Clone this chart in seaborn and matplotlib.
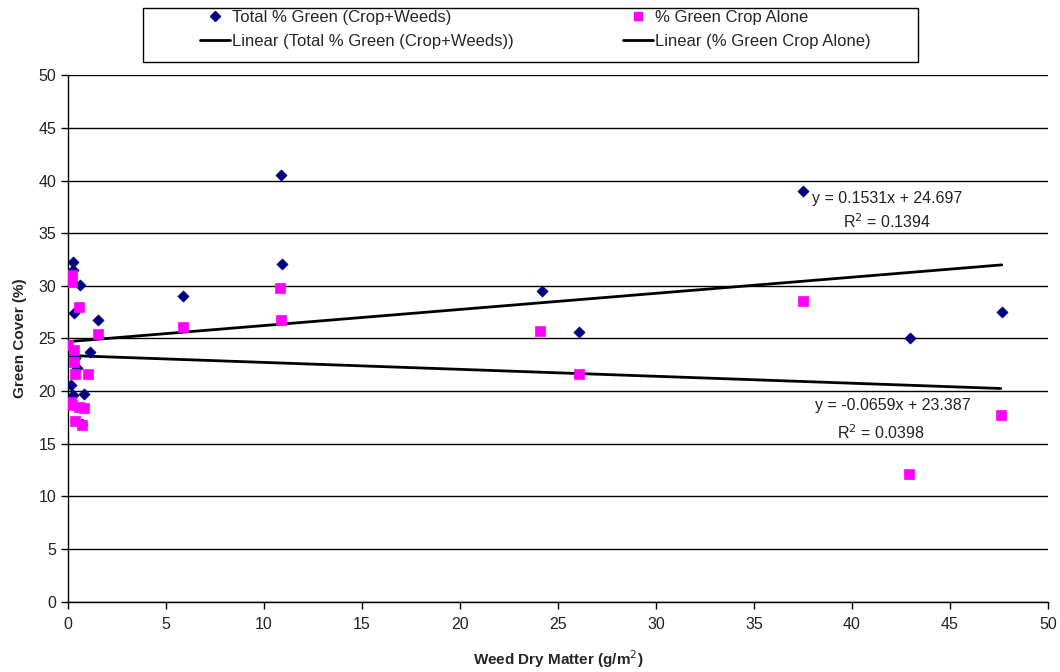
import matplotlib
matplotlib.use("Agg")
import matplotlib.pyplot as plt
import seaborn as sns
import numpy as np
import pandas as pd
from matplotlib.lines import Line2D
from matplotlib.patches import Rectangle

# Total % Green (Crop+Weeds)
total_x = [0.26, 0.26, 0.63, 0.32, 1.53, 1.14, 0.37, 0.46, 0.15, 0.83, 0.26, 0.70,
           5.88, 10.87, 10.93, 24.17, 26.10, 37.48, 42.96, 47.64]
total_y = [32.3, 31.5, 30.1, 27.4, 26.75, 23.7, 23.1, 22.2, 20.6, 19.7, 19.6, 16.9,
           29.0, 40.5, 32.1, 29.5, 25.6, 39.0, 25.0, 27.5]

# % Green Crop Alone
crop_x = [0.20, 0.20, 0.58, 1.53, 0.03, 0.29, 0.29, 0.37, 1.05, 0.15, 0.20, 0.55, 0.80,
          0.37, 0.71, 5.85, 10.82, 10.87, 24.10, 26.07, 37.48, 42.92, 47.59]
crop_y = [31.0, 30.4, 28.0, 25.4, 24.4, 23.9, 22.8, 21.6, 21.6, 19.0, 18.7, 18.5, 18.4,
          17.2, 16.8, 26.1, 29.8, 26.8, 25.7, 21.6, 28.6, 12.1, 17.7]

# Linear trendlines as stated on the chart: [total, crop]
trend_slope = [0.1531, -0.0659]
trend_intercept = [24.697, 23.387]

x_ticks = list(range(0, 51, 5))
y_ticks = list(range(0, 51, 5))

eq_total = ["y = 0.1531x + 24.697", "R$^2$ = 0.1394"]
eq_crop = ["y = -0.0659x + 23.387", "R$^2$ = 0.0398"]

df_total = pd.DataFrame({"x": total_x, "y": total_y})
df_crop = pd.DataFrame({"x": crop_x, "y": crop_y})

sns.set_theme(style="white")
plt.rcParams["font.family"] = ["Liberation Sans", "DejaVu Sans"]

fig = plt.figure(figsize=(10.6, 6.72), dpi=100)
ax = fig.add_axes([0.064, 0.1046, 0.9247, 0.7834])

for yt in y_ticks:
    ax.axhline(yt, color="black", lw=1.0, zorder=1)

for xs, m, b in [(total_x, trend_slope[0], trend_intercept[0]),
                 (crop_x, trend_slope[1], trend_intercept[1])]:
    lx = np.array([min(xs), max(xs)])
    sns.lineplot(x=lx, y=m * lx + b, ax=ax, color="black", lw=2.0, zorder=2)

sns.scatterplot(data=df_total, x="x", y="y", ax=ax, marker="D", color="#000080",
                s=32, edgecolor="#000080", linewidth=0.5, zorder=3)
sns.scatterplot(data=df_crop, x="x", y="y", ax=ax, marker="s", color="#FF00FF",
                s=42, edgecolor="#FF00FF", linewidth=0.5, zorder=4)

ax.set_xlim(0, 50)
ax.set_ylim(0, 50)
ax.set_xticks(x_ticks)
ax.set_yticks(y_ticks)
ax.tick_params(axis="both", direction="out", length=5, width=1, color="black",
               labelsize=11.5, labelcolor="#222222", left=True, bottom=True)
ax.tick_params(axis="x", pad=6)
for s in ["top", "right"]:
    ax.spines[s].set_visible(False)
for s in ["left", "bottom"]:
    ax.spines[s].set_color("black")
    ax.spines[s].set_linewidth(1.0)

ax.set_xlabel("Weed Dry Matter (g/m$^2$)", fontsize=11, fontweight="bold", labelpad=12)
ax.set_ylabel("Green Cover (%)", fontsize=11, fontweight="bold", labelpad=8)

ax.text(41.8, 38.3, eq_total[0], ha="center", va="center", fontsize=11.5, color="#222222")
ax.text(41.8, 36.05, eq_total[1], ha="center", va="center", fontsize=11.5, color="#222222")
ax.text(42.1, 18.6, eq_crop[0], ha="center", va="center", fontsize=11.5, color="#222222")
ax.text(41.5, 16.1, eq_crop[1], ha="center", va="center", fontsize=11.5, color="#222222")

handles = [
    Line2D([], [], marker="D", color="#000080", linestyle="none", markersize=5),
    Line2D([], [], color="black", lw=2),
    Line2D([], [], marker="s", color="#FF00FF", linestyle="none", markersize=6),
    Line2D([], [], color="black", lw=2),
]
labels = ["Total % Green (Crop+Weeds)", "Linear (Total % Green (Crop+Weeds))",
          "% Green Crop Alone", "Linear (% Green Crop Alone)"]
leg = fig.legend(handles, labels, ncol=2, loc="upper left",
                 bbox_to_anchor=(200 / 1060, 1 - 10 / 672),
                 fontsize=12, frameon=False,
                 handlelength=1.8, handletextpad=0.1, columnspacing=6.6,
                 labelspacing=0.55, borderpad=0.0, borderaxespad=0.0)
fig.patches.append(Rectangle((143 / 1060, 1 - 62 / 672), 775 / 1060, 54 / 672,
                             transform=fig.transFigure, fill=False,
                             edgecolor="black", lw=1.0))

fig.savefig("out.png", dpi=100)
